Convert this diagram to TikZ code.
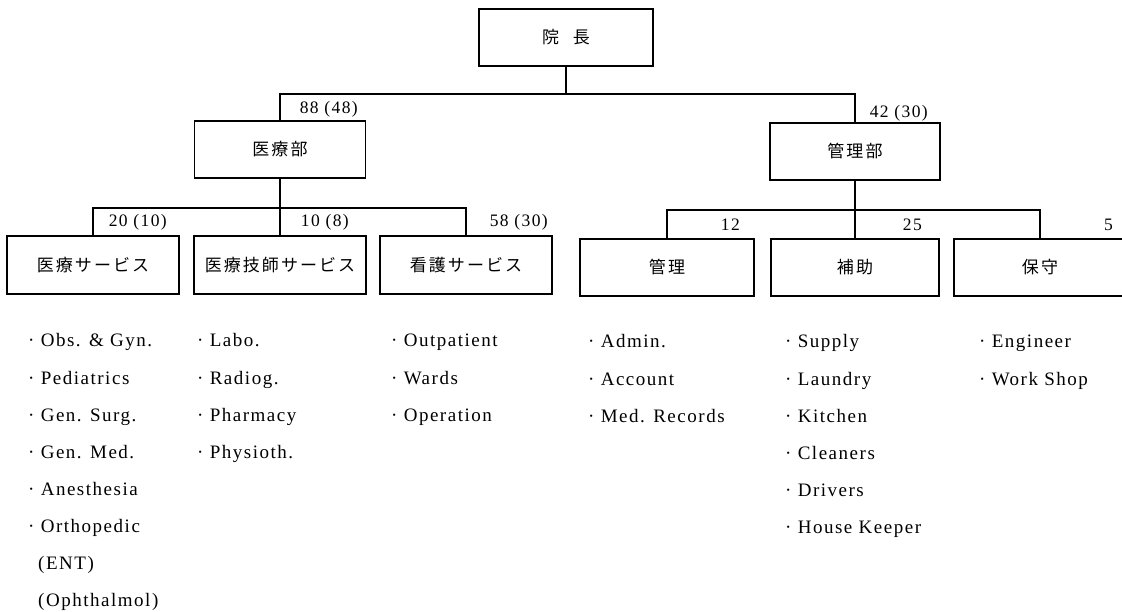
\documentclass[tikz,border=0pt]{standalone}
\usepackage{fontspec}
\setmainfont{Liberation Serif}[LetterSpace=8]
\newfontfamily\jp{Noto Sans CJK JP}[LetterSpace=12]
\begin{document}
\begin{tikzpicture}[x=1pt,y=-1pt,
  box/.style={draw, line width=1.1pt, inner sep=0pt, minimum height=57pt,
    font=\jp\fontsize{17}{19}\selectfont},
  conn/.style={line width=1.1pt},
  num/.style={anchor=base east, inner sep=0pt, font=\fontsize{17.5}{20}\selectfont},
  item/.style={anchor=base west, inner sep=0pt, font=\fontsize{19}{22}\selectfont}]
\useasboundingbox (0,0) rectangle (1122,612);
\fill[white] (0,0) rectangle (1122,612);
\clip (0,0) rectangle (1122,612);

% boxes
\node[box, minimum width=174pt] (top) at (566,37.5) {院\hspace{14pt}長};
\node[box, minimum width=171pt] (med) at (280,149.5) {医療部};
\node[box, minimum width=170pt] (adm) at (855,151.5) {管理部};
\node[box, minimum width=172pt, minimum height=58pt] (b1) at (93,265) {医療サービス};
\node[box, minimum width=172pt, minimum height=58pt] (b2) at (280,265) {医療技師サービス};
\node[box, minimum width=172pt, minimum height=58pt] (b3) at (466,265) {看護サービス};
\node[box, minimum width=174pt] (b4) at (667,267.5) {管理};
\node[box, minimum width=168pt] (b5) at (855,267.5) {補助};
\node[box, minimum width=172pt] (b6) at (1040,267.5) {保守};

% connectors
\coordinate (j0) at (566,94);
\coordinate (j1) at (280,208);
\coordinate (j2) at (855,210);
\draw[conn] (top.south) -- (j0);
\draw[conn] (med.north) |- (j0) -| (adm.north);
\draw[conn] (med.south) -- (b2.north);
\draw[conn] (b1.north) |- (j1) -| (b3.north);
\draw[conn] (adm.south) -- (b5.north);
\draw[conn] (b4.north) |- (j2) -| (b6.north);

% numbers
\node[num] (n0) at (358,114) {88 (48)};
\node[num] (n1) at (928,118) {42 (30)};
\node[num] (n2) at (167,227) {20 (10)};
\node[num] (n3) at (349,227) {10 (8)};
\node[num] (n4) at (548,227) {58 (30)};
\node[num] (n5) at (740,231) {12};
\node[num] (n6) at (922,231) {25};
\node[num] (n7) at (1113,231) {5};

% lists
\foreach \t [count=\i] in {Obs. \& Gyn., Pediatrics, Gen. Surg., Gen. Med., Anesthesia, Orthopedic}
  \node[item] (a\i) at (28,{347+37*(\i-1)}) {·~\t};
\node[item] (a7) at (38,{347+37*6}) {(ENT)};
\node[item] (a8) at (38,{347+37*7}) {(Ophthalmol)};
\foreach \t [count=\i] in {Labo., Radiog., Pharmacy, Physioth.}
  \node[item] (c\i) at (197,{347+37*(\i-1)}) {·~\t};
\foreach \t [count=\i] in {Outpatient, Wards, Operation}
  \node[item] (d\i) at (391,{347+37*(\i-1)}) {·~\t};
\foreach \t [count=\i] in {Admin., Account, Med. Records}
  \node[item] (e\i) at (588,{348+37*(\i-1)}) {·~\t};
\foreach \t [count=\i] in {Supply, Laundry, Kitchen, Cleaners, Drivers, House Keeper}
  \node[item] (f\i) at (785,{348+37*(\i-1)}) {·~\t};
\foreach \t [count=\i] in {Engineer, Work Shop}
  \node[item] (g\i) at (979,{348+37*(\i-1)}) {·~\t};
\end{tikzpicture}
\end{document}
